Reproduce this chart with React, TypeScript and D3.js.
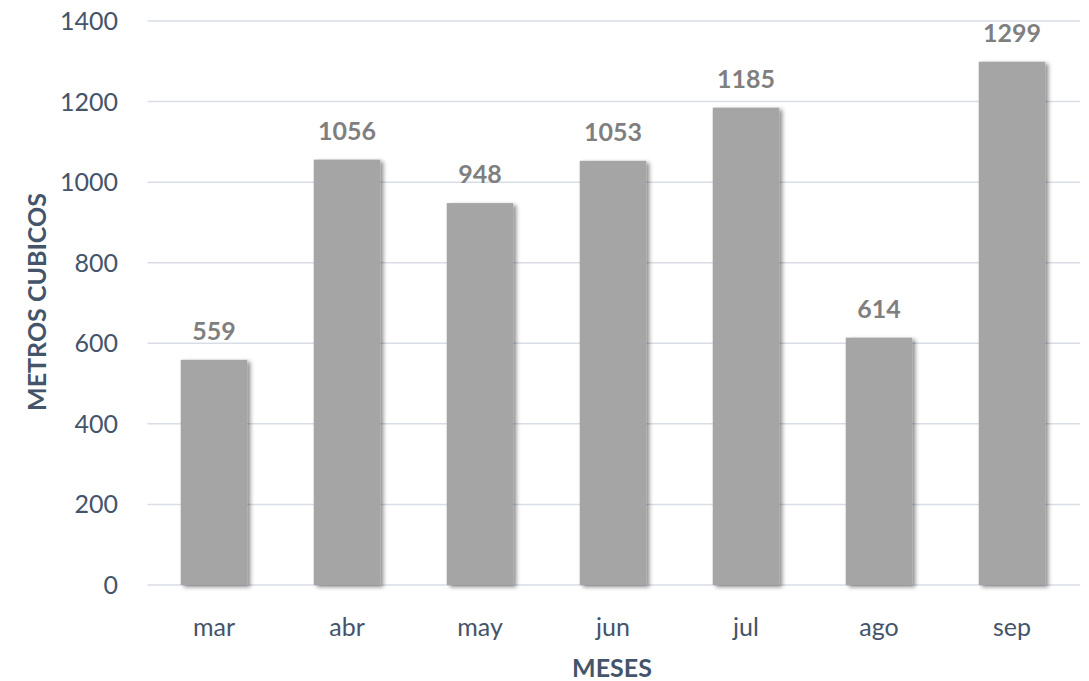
import React from "react";
import * as d3 from "d3";

const months = ["mar", "abr", "may", "jun", "jul", "ago", "sep"];
const values = [559, 1056, 948, 1053, 1185, 614, 1299];
const yTicks = [0, 200, 400, 600, 800, 1000, 1200, 1400];

const W = 1089;
const H = 681;
const FONT = "'Lato', 'Open Sans', sans-serif";

export default function App() {
  const x = d3.scaleBand<string>().domain(months).range([147.5, 1078.5]).paddingInner(0.5).paddingOuter(0.25);
  const y = d3.scaleLinear().domain([0, 1400]).range([585, 21]);
  return (
    <svg width={W} height={H} style={{ position: "absolute", left: 0, top: 0 }}>
      <defs>
        <filter id="sh" x="-20%" y="-20%" width="150%" height="150%">
          <feDropShadow dx="3" dy="2" stdDeviation="2" floodColor="#000" floodOpacity="0.45" />
        </filter>
      </defs>
      {yTicks.map((t) => (
        <g key={t}>
          <line x1={147.5} x2={1080} y1={y(t)} y2={y(t)} stroke="#d9dee6" strokeWidth={1.5} />
          <text x={118} y={y(t)} dy="0.36em" textAnchor="end" fontFamily={FONT} fontSize={25} fill="#44546a">
            {t}
          </text>
        </g>
      ))}
      {months.map((m, i) => (
        <g key={m}>
          <rect x={x(m)} y={y(values[i])} width={x.bandwidth()} height={y(0) - y(values[i])} fill="#a5a5a5" filter="url(#sh)" />
          <text x={(x(m) as number) + x.bandwidth() / 2} y={y(values[i]) - 20} textAnchor="middle" fontFamily={FONT} fontWeight="bold" fontSize={25} fill="#7f7f7f">
            {values[i]}
          </text>
          <text x={(x(m) as number) + x.bandwidth() / 2} y={627} dy="0.36em" textAnchor="middle" fontFamily={FONT} fontSize={25} fill="#44546a">
            {m}
          </text>
        </g>
      ))}
      <text x={612} y={668} dy="0.36em" textAnchor="middle" fontFamily={FONT} fontWeight="bold" fontSize={25} fill="#44546a">
        MESES
      </text>
      <text transform="translate(37,302) rotate(-90)" dy="0.36em" textAnchor="middle" fontFamily={FONT} fontWeight="bold" fontSize={25} fill="#44546a">
        METROS CUBICOS
      </text>
    </svg>
  );
}
